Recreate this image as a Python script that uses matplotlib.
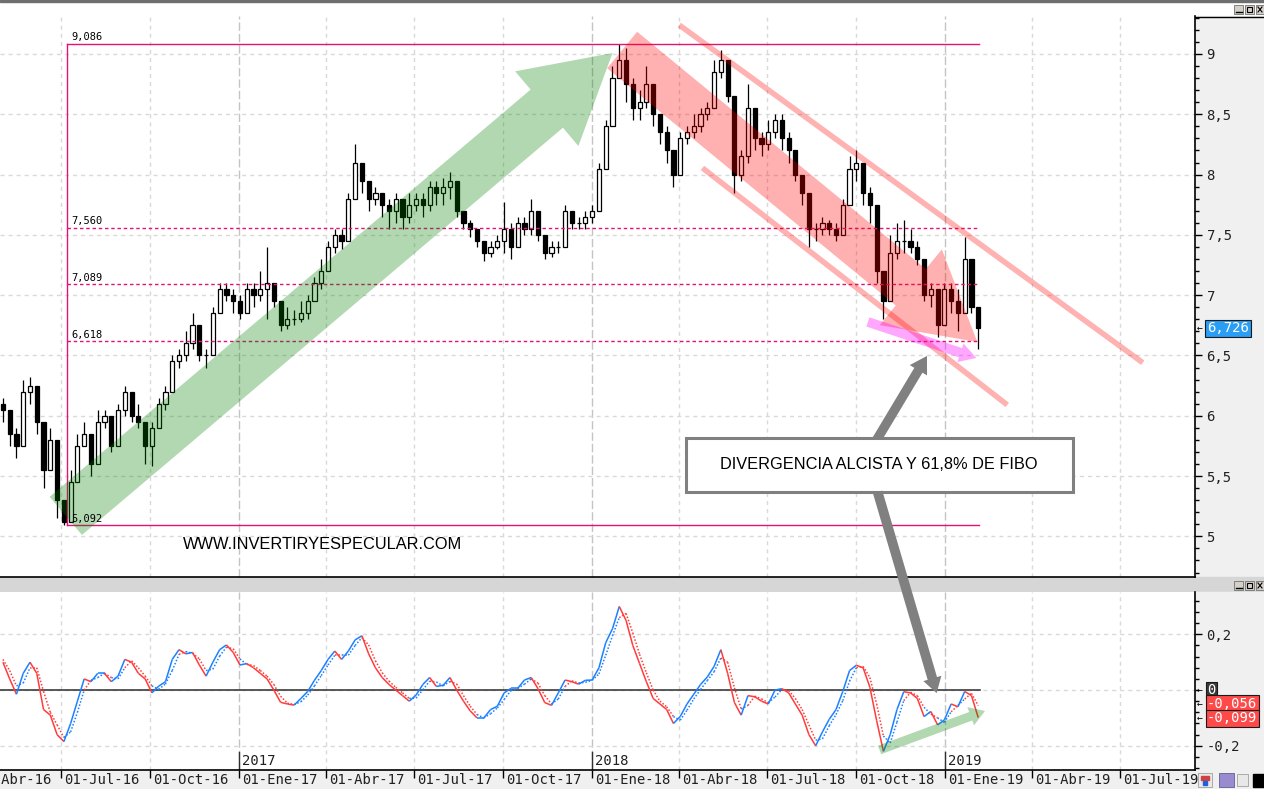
import numpy as np
import pandas as pd
import matplotlib
matplotlib.use('Agg')
import matplotlib.pyplot as plt
import matplotlib.dates as mdates
import matplotlib.transforms as mtransforms
from matplotlib.patches import Rectangle, ConnectionPatch
from matplotlib.collections import LineCollection
from matplotlib.ticker import MultipleLocator, FixedLocator, FuncFormatter

# ---- weekly candles (one per week from 2016-05-02) ----
week_start = '2016-05-02'
opens = [6.1, 6.05, 5.85, 5.75, 6.2, 6.25, 5.95, 5.55, 5.8, 5.3,
         5.12, 5.45, 5.75, 5.85, 5.6, 5.95, 6.0, 5.75, 6.05, 6.2,
         6.0, 5.95, 5.75, 5.9, 6.1, 6.2, 6.45, 6.5, 6.6, 6.75,
         6.5, 6.5, 6.85, 7.05, 7.0, 6.95, 6.85, 7.05, 7.0, 7.05,
         7.1, 6.95, 6.75, 6.8, 6.8, 6.85, 6.95, 7.1, 7.2, 7.4,
         7.5, 7.45, 7.8, 8.1, 7.95, 7.8, 7.85, 7.75, 7.7, 7.8,
         7.65, 7.75, 7.8, 7.75, 7.9, 7.85, 7.9, 7.95, 7.7, 7.6,
         7.55, 7.45, 7.35, 7.4, 7.45, 7.55, 7.4, 7.6, 7.55, 7.7,
         7.5, 7.35, 7.4, 7.4, 7.7, 7.6, 7.6, 7.65, 7.7, 8.05,
         8.4, 8.8, 8.95, 8.75, 8.55, 8.6, 8.75, 8.5, 8.35, 8.2,
         8.0, 8.3, 8.35, 8.4, 8.5, 8.55, 8.85, 8.95, 8.65, 8.0,
         8.15, 8.55, 8.3, 8.25, 8.35, 8.45, 8.3, 8.2, 8.0, 7.85,
         7.55, 7.55, 7.6, 7.55, 7.5, 7.75, 8.05, 8.1, 7.85, 7.75,
         7.2, 6.95, 7.35, 7.45, 7.45, 7.4, 7.3, 7.0, 7.05, 6.75,
         7.05, 6.95, 6.85, 7.3, 6.9]
highs = [6.15, 6.0, 5.9, 6.3, 6.32, 6.2, 5.7, 5.9, 5.5, 5.3,
         5.55, 5.85, 5.95, 5.85, 6.05, 6.05, 5.95, 6.1, 6.25, 6.15,
         6.1, 5.95, 5.95, 6.15, 6.25, 6.5, 6.55, 6.7, 6.85, 6.75,
         6.55, 6.9, 7.1, 7.1, 7.05, 7.0, 7.1, 7.1, 7.2, 7.4,
         7.1, 6.95, 6.9, 6.88, 6.95, 7.0, 7.15, 7.3, 7.45, 7.55,
         7.55, 7.85, 8.25, 8.1, 7.9, 7.9, 7.85, 7.8, 7.85, 7.75,
         7.85, 7.85, 7.85, 7.95, 7.95, 7.97, 8.02, 7.95, 7.7, 7.62,
         7.55, 7.45, 7.45, 7.5, 7.77, 7.6, 7.65, 7.65, 7.8, 7.65,
         7.5, 7.45, 7.45, 7.75, 7.7, 7.65, 7.7, 7.75, 8.1, 8.45,
         8.9, 9.086, 9.05, 8.8, 8.7, 8.9, 8.75, 8.5, 8.4, 8.2,
         8.35, 8.4, 8.5, 8.55, 8.6, 8.95, 9.03, 8.9, 8.5, 8.2,
         8.75, 8.55, 8.35, 8.45, 8.5, 8.5, 8.35, 8.2, 8.0, 7.8,
         7.6, 7.65, 7.62, 7.6, 7.8, 8.15, 8.2, 8.1, 7.9, 7.75,
         7.15, 7.5, 7.6, 7.62, 7.55, 7.45, 7.3, 7.1, 7.0, 7.1,
         7.1, 7.05, 7.48, 7.2, 6.9]
lows = [5.95, 5.75, 5.65, 5.9, 6.1, 5.85, 5.4, 5.55, 5.15, 5.092,
        5.2, 5.45, 5.75, 5.5, 5.6, 5.9, 5.7, 5.9, 6.0, 5.95,
        5.9, 5.6, 5.58, 5.9, 6.05, 6.2, 6.4, 6.45, 6.55, 6.45,
        6.4, 6.5, 6.85, 6.95, 6.85, 6.8, 6.85, 6.9, 6.95, 6.8,
        6.9, 6.7, 6.72, 6.75, 6.78, 6.8, 6.95, 7.05, 7.2, 7.35,
        7.38, 7.5, 7.8, 7.85, 7.7, 7.75, 7.65, 7.55, 7.6, 7.55,
        7.6, 7.7, 7.65, 7.7, 7.75, 7.75, 7.8, 7.65, 7.55, 7.48,
        7.4, 7.28, 7.32, 7.38, 7.35, 7.3, 7.45, 7.5, 7.5, 7.45,
        7.3, 7.32, 7.35, 7.4, 7.55, 7.55, 7.55, 7.6, 7.7, 8.05,
        8.4, 8.8, 8.6, 8.45, 8.45, 8.55, 8.4, 8.25, 8.1, 7.9,
        8.0, 8.25, 8.3, 8.35, 8.45, 8.55, 8.8, 8.6, 7.85, 7.95,
        8.1, 8.2, 8.15, 8.2, 8.3, 8.2, 8.1, 7.95, 7.75, 7.4,
        7.45, 7.5, 7.5, 7.45, 7.5, 7.75, 7.95, 7.75, 7.6, 7.1,
        6.8, 6.95, 7.3, 7.35, 7.35, 7.25, 6.95, 6.9, 6.65, 6.75,
        6.85, 6.7, 6.85, 6.85, 6.55]
closes = [6.05, 5.85, 5.75, 6.2, 6.25, 5.95, 5.55, 5.8, 5.3, 5.12,
          5.45, 5.75, 5.85, 5.6, 5.95, 6.0, 5.75, 6.05, 6.2, 6.0,
          5.95, 5.75, 5.9, 6.1, 6.2, 6.45, 6.5, 6.6, 6.75, 6.5,
          6.5, 6.85, 7.05, 7.0, 6.95, 6.85, 7.05, 7.0, 7.05, 7.1,
          6.95, 6.75, 6.8, 6.8, 6.85, 6.95, 7.1, 7.2, 7.4, 7.5,
          7.45, 7.8, 8.1, 7.95, 7.8, 7.85, 7.75, 7.7, 7.8, 7.65,
          7.75, 7.8, 7.75, 7.9, 7.85, 7.9, 7.95, 7.7, 7.6, 7.55,
          7.45, 7.35, 7.4, 7.45, 7.55, 7.4, 7.6, 7.55, 7.7, 7.5,
          7.35, 7.4, 7.4, 7.7, 7.6, 7.6, 7.65, 7.7, 8.05, 8.4,
          8.8, 8.95, 8.75, 8.55, 8.6, 8.75, 8.5, 8.35, 8.2, 8.0,
          8.3, 8.35, 8.4, 8.5, 8.55, 8.85, 8.95, 8.65, 8.0, 8.15,
          8.55, 8.3, 8.25, 8.35, 8.45, 8.3, 8.2, 8.0, 7.85, 7.55,
          7.55, 7.6, 7.55, 7.5, 7.75, 8.05, 8.1, 7.85, 7.75, 7.2,
          6.95, 7.35, 7.45, 7.45, 7.4, 7.3, 7.0, 7.05, 6.75, 7.05,
          6.95, 6.85, 7.3, 6.9, 6.726]

# ---- oscillator (main line and dotted signal line), same weeks ----
osc_main = [0.10, 0.04, -0.015, 0.06, 0.10, 0.06, -0.07, -0.09, -0.16, -0.185,
            -0.12, -0.04, 0.04, 0.03, 0.06, 0.06, 0.03, 0.05, 0.11, 0.10,
            0.06, 0.04, -0.01, 0.014, 0.03, 0.11, 0.145, 0.13, 0.135, 0.09,
            0.05, 0.10, 0.145, 0.162, 0.135, 0.09, 0.095, 0.08, 0.06, 0.04,
            0.0, -0.044, -0.05, -0.054, -0.03, -0.005, 0.035, 0.07, 0.11, 0.14,
            0.11, 0.14, 0.18, 0.195, 0.13, 0.08, 0.045, 0.02, 0.0, -0.02,
            -0.04, -0.018, 0.02, 0.045, 0.013, 0.017, 0.045, 0.0, -0.04, -0.075,
            -0.10, -0.10, -0.07, -0.058, -0.01, 0.006, 0.006, 0.036, 0.045, 0.005,
            -0.045, -0.055, -0.01, 0.036, 0.03, 0.021, 0.035, 0.036, 0.08, 0.17,
            0.22, 0.30, 0.25, 0.16, 0.095, 0.03, -0.03, -0.05, -0.07, -0.12,
            -0.095, -0.05, -0.015, 0.02, 0.047, 0.085, 0.145, 0.06, -0.045, -0.09,
            -0.02, -0.024, -0.04, -0.05, 0.0, 0.005, -0.01, -0.05, -0.09, -0.16,
            -0.20, -0.15, -0.105, -0.07, -0.005, 0.07, 0.089, 0.08, 0.01, -0.11,
            -0.22, -0.16, -0.07, -0.006, -0.01, -0.03, -0.095, -0.077, -0.125, -0.107,
            -0.05, -0.06, -0.005, -0.02, -0.099]
osc_signal = [0.11, 0.07, 0.015, 0.025, 0.08, 0.08, -0.005, -0.08, -0.125, -0.17,
              -0.15, -0.08, 0.0, 0.035, 0.045, 0.06, 0.045, 0.04, 0.08, 0.105,
              0.08, 0.05, 0.015, 0.002, 0.022, 0.07, 0.128, 0.138, 0.132, 0.112,
              0.07, 0.075, 0.122, 0.154, 0.148, 0.112, 0.092, 0.088, 0.07, 0.05,
              0.02, -0.022, -0.047, -0.052, -0.042, -0.018, 0.015, 0.052, 0.09, 0.125,
              0.125, 0.125, 0.16, 0.188, 0.162, 0.105, 0.062, 0.032, 0.01, -0.01,
              -0.03, -0.029, 0.001, 0.032, 0.029, 0.015, 0.031, 0.022, -0.02, -0.058,
              -0.088, -0.10, -0.085, -0.064, -0.034, -0.002, 0.006, 0.021, 0.04, 0.025,
              -0.02, -0.05, -0.032, 0.013, 0.033, 0.025, 0.028, 0.035, 0.058, 0.125,
              0.195, 0.26, 0.275, 0.205, 0.128, 0.062, 0.0, -0.04, -0.06, -0.095,
              -0.108, -0.072, -0.032, 0.002, 0.034, 0.066, 0.115, 0.10, 0.008, -0.068,
              -0.055, -0.022, -0.032, -0.045, -0.025, 0.002, -0.002, -0.03, -0.07, -0.125,
              -0.18, -0.175, -0.128, -0.088, -0.038, 0.032, 0.08, 0.085, 0.045, -0.05,
              -0.165, -0.19, -0.115, -0.038, -0.008, -0.02, -0.062, -0.086, -0.10, -0.116,
              -0.078, -0.055, -0.032, -0.012, -0.056]

# ---- fibonacci retracement ----
fib_start = '2016-07-07'
fib_end = '2019-02-05'
fib_levels = [9.086, 7.560, 7.089, 6.618, 5.092]
fib_labels = ['9,086', '7,560', '7,089', '6,618', '5,092']

# ---- axis ticks ----
tick_dates = ['2016-04-01', '2016-07-01', '2016-10-01', '2017-01-01', '2017-04-01',
              '2017-07-01', '2017-10-01', '2018-01-01', '2018-04-01', '2018-07-01',
              '2018-10-01', '2019-01-01', '2019-04-01', '2019-07-01']
tick_labels = ['01-Abr-16', '01-Jul-16', '01-Oct-16', '01-Ene-17', '01-Abr-17',
               '01-Jul-17', '01-Oct-17', '01-Ene-18', '01-Abr-18', '01-Jul-18',
               '01-Oct-18', '01-Ene-19', '01-Abr-19', '01-Jul-19']
year_dates = ['2017-01-01', '2018-01-01', '2019-01-01']
year_labels = ['2017', '2018', '2019']

last_price = 6.726
last_signal = -0.056
last_main = -0.099

MONO = 'DejaVu Sans Mono'
SANS = 'Liberation Sans'
FIB = '#e3127a'
BLUE = '#1c80ff'
RED = '#ff3c3c'

W, H = 1264, 789
fig = plt.figure(figsize=(W / 100, H / 100), dpi=100)


def frac(x0, y0, x1, y1):
    return [x0 / W, 1 - y1 / H, (x1 - x0) / W, (y1 - y0) / H]


# window chrome behind the panels
bg = fig.add_axes([0, 0, 1, 1], zorder=-10)
bg.set_xlim(0, W)
bg.set_ylim(H, 0)
bg.axis('off')
bg.add_patch(Rectangle((0, 0), W, 2, color='#6e6e6e'))
bg.add_patch(Rectangle((1195, 16), 69, 561, color='#f0f0f0'))
bg.plot([1195, 1264], [16.5, 16.5], color='black', lw=1)
bg.add_patch(Rectangle((0, 577), W, 15, color='#d6d6d6'))
bg.add_patch(Rectangle((1195, 592), 69, 178, color='#f0f0f0'))
bg.add_patch(Rectangle((0, 770), W, 19, color='#f0f0f0'))
for top in (5, 581):
    for bx in (1234, 1245, 1256):
        bg.add_patch(Rectangle((bx, top), 9, 9, facecolor='#d4d0c8', edgecolor='#707070', lw=0.6))
    bg.plot([1236, 1242], [top + 7, top + 7], color='black', lw=1)
    bg.add_patch(Rectangle((1247, top + 2), 5, 5, facecolor='none', edgecolor='black', lw=0.8))
    bg.plot([1258, 1262], [top + 2, top + 7], color='black', lw=0.8)
    bg.plot([1258, 1262], [top + 7, top + 2], color='black', lw=0.8)
bg.add_patch(Rectangle((1198, 773), 14, 14, facecolor='#e8e8e8', edgecolor='#a0a0a0', lw=0.6))
bg.add_patch(Rectangle((1201, 776), 8, 4, color='#d04040'))
bg.add_patch(Rectangle((1203, 781), 4, 4, color='#2060e0'))
bg.add_patch(Rectangle((1219, 773), 15, 14, facecolor='#9a8ad0', edgecolor='#606090', lw=0.6))
bg.add_patch(Rectangle((1237, 774), 11, 12, facecolor='#e8e8e8', edgecolor='#a0a0a0', lw=0.6))
bg.add_patch(Rectangle((1253, 774), 11, 13, color='black'))

ax = fig.add_axes(frac(0, 16, 1195, 577))
ax2 = fig.add_axes(frac(0, 592, 1195, 770))

dates = pd.date_range(week_start, periods=len(closes), freq='7D')
x = mdates.date2num(dates)
xlim = (mdates.datestr2num('2016-04-29'), mdates.datestr2num('2019-09-16'))
for a in (ax, ax2):
    a.set_xlim(*xlim)
    for s in ('left', 'top'):
        a.spines[s].set_visible(False)
    a.spines['right'].set_color('black')
    a.spines['bottom'].set_color('black')
    a.spines['right'].set_linewidth(1.2)
    a.spines['bottom'].set_linewidth(1.2)
ax.set_ylim(4.663, 9.315)
ax2.set_ylim(-0.287, 0.352)

# grid
for d in tick_dates:
    dn = mdates.datestr2num(d)
    if d.endswith('01-01'):
        st = dict(color='#c4c4c4', lw=1, dashes=(6, 2.2))
    else:
        st = dict(color='#d9d9d9', lw=1, dashes=(2.9, 2.9))
    for a in (ax, ax2):
        a.axvline(dn, zorder=0, **st)
for v in np.arange(5, 9.01, 0.5):
    ax.axhline(v, color='#d9d9d9', lw=1, dashes=(2.9, 2.9), zorder=0)
for v in (-0.2, 0, 0.2):
    ax2.axhline(v, color='#d9d9d9', lw=1, dashes=(2.9, 2.9), zorder=0)

# candles
o = np.array(opens)
c = np.array(closes)
hi = np.maximum(np.array(highs), np.maximum(o, c))
lo = np.minimum(np.array(lows), np.minimum(o, c))
up = c >= o
ax.vlines(x, lo, hi, color='black', lw=0.9, zorder=2)
ax.bar(x[up], (c - o)[up], bottom=o[up], width=4.3, facecolor='white',
       edgecolor='black', lw=0.9, zorder=3)
ax.bar(x[~up], (o - c)[~up], bottom=c[~up], width=4.3, facecolor='black',
       edgecolor='black', lw=0.9, zorder=3)

# fibonacci
f0 = mdates.datestr2num(fib_start)
f1 = mdates.datestr2num(fib_end)
up1 = mtransforms.ScaledTranslation(0, 1.5 / 100, fig.dpi_scale_trans)
for lev, lab in zip(fib_levels, fib_labels):
    if lev in (max(fib_levels), min(fib_levels)):
        ax.plot([f0, f1], [lev, lev], color=FIB, lw=1, zorder=3)
    else:
        ax.plot([f0, f1], [lev, lev], color=FIB, lw=1, dashes=(2.5, 2), zorder=3)
    ax.text(f0 + 5, lev, lab, transform=ax.transData + up1, fontfamily=MONO,
            fontsize=7.5, va='bottom', ha='left', zorder=6)
ax.plot([f0, f0], [min(fib_levels), max(fib_levels)], color=FIB, lw=1, zorder=3)


def dn(d):
    return mdates.datestr2num(d)


def simple(hl, hw, tw):
    return f'simple,head_length={hl},head_width={hw},tail_width={tw}'


# big green arrow
ax.annotate('', xy=(dn('2018-01-22'), 9.008), xytext=(dn('2016-07-06'), 5.17),
            arrowprops=dict(arrowstyle=simple(62, 70.5, 36), mutation_scale=1,
                            color='#008000', alpha=0.3, lw=0, shrinkA=0, shrinkB=0),
            zorder=4)
# big red arrow
ax.annotate('', xy=(dn('2019-02-03'), 6.612), xytext=(dn('2018-02-01'), 9.033),
            arrowprops=dict(arrowstyle=simple(62, 70.5, 34), mutation_scale=1,
                            color='#ff0000', alpha=0.31, lw=0, shrinkA=0, shrinkB=0),
            zorder=4)
# red channel lines
ax.plot([dn('2018-04-01'), dn('2019-07-24')], [9.24, 6.44], color='#ff0000',
        alpha=0.3, lw=4, solid_capstyle='butt', zorder=4)
ax.plot([dn('2018-04-25'), dn('2019-03-06')], [8.055, 6.09], color='#ff0000',
        alpha=0.3, lw=4, solid_capstyle='butt', zorder=4)
# pink arrow
ax.annotate('', xy=(dn('2019-02-02'), 6.479), xytext=(dn('2018-10-13'), 6.778),
            arrowprops=dict(arrowstyle=simple(12, 14, 7), mutation_scale=1,
                            color='#ff00ff', alpha=0.35, lw=0, shrinkA=0, shrinkB=0),
            zorder=4)
# gray arrow up from the note
ax.annotate('', xy=(dn('2018-12-13'), 6.496), xytext=(dn('2018-10-22'), 5.80),
            arrowprops=dict(arrowstyle=simple(12, 14.5, 6.8), mutation_scale=1,
                            color='#808080', lw=0, shrinkA=0, shrinkB=0),
            zorder=5)

# note box
bx0, bx1 = dn('2018-04-08'), dn('2019-05-13')
ax.add_patch(Rectangle((bx0, 5.368), bx1 - bx0, 5.816 - 5.368, facecolor='white',
                       edgecolor='#808080', lw=2.2, zorder=6))
ax.text(dn('2018-10-24'), 5.592, 'DIVERGENCIA ALCISTA Y 61,8% DE FIBO',
        fontfamily=SANS, fontsize=11.8, ha='center', va='center', zorder=7)
ax.text(dn('2016-11-04'), 4.929, 'WWW.INVERTIRYESPECULAR.COM', fontfamily=SANS,
        fontsize=11.8, ha='left', va='center', zorder=7)

# gray arrow down into the oscillator
con = ConnectionPatch(xyA=(dn('2018-10-23'), 5.368), coordsA=ax.transData,
                      xyB=(dn('2018-12-23'), -0.011), coordsB=ax2.transData,
                      arrowstyle=simple(11, 13.5, 7), mutation_scale=1,
                      color='#808080', lw=0, shrinkA=0, shrinkB=0, zorder=5)
fig.add_artist(con)

# price axis on the right
comma = FuncFormatter(lambda v, p: ('%.2f' % v).rstrip('0').rstrip('.').replace('.', ','))
for a in (ax, ax2):
    a.yaxis.tick_right()
    a.tick_params(axis='y', which='major', length=5.3, width=1, color='black',
                  pad=3, labelsize=10, labelfontfamily=MONO, labelcolor='#202020')
    a.tick_params(axis='y', which='minor', length=2.6, width=1, color='black')
    a.yaxis.set_major_formatter(comma)
ax.yaxis.set_major_locator(MultipleLocator(0.5))
ax.yaxis.set_minor_locator(MultipleLocator(0.1))
ax.tick_params(axis='x', bottom=False, labelbottom=False)

rt = mtransforms.blended_transform_factory(ax.transAxes, ax.transData)
ax.text(1 + 12 / 1195, last_price, '6,726', transform=rt, color='white',
        fontfamily=MONO, fontsize=10, va='center', ha='left', clip_on=False,
        bbox=dict(boxstyle='square,pad=0.12', facecolor='#2a9df4', edgecolor='#1a1a1a', lw=0.8))
ax.text(1 + 2 / 1195, last_price, '\u2190', transform=rt, fontfamily=MONO,
        fontsize=7, va='center', ha='left', clip_on=False)

# oscillator
m = np.array(osc_main)
s = np.array(osc_signal)
cols = np.where(m[1:] >= s[1:], BLUE, RED)
pm = np.column_stack([x, m])
ps = np.column_stack([x, s])
ax2.add_collection(LineCollection(np.stack([pm[:-1], pm[1:]], axis=1), colors=cols,
                                  lw=1.1, zorder=3))
ax2.add_collection(LineCollection(np.stack([ps[:-1], ps[1:]], axis=1), colors=cols,
                                  lw=1.1, linestyles=[(0, (1, 1.2))], zorder=3))
ax2.plot([xlim[0], x[-1] + 2], [0, 0], color='#3c3c3c', lw=1.2, zorder=2)
ax2.annotate('', xy=(dn('2019-02-11'), -0.075), xytext=(dn('2018-10-25'), -0.215),
             arrowprops=dict(arrowstyle=simple(11, 14, 6.5), mutation_scale=1,
                             color='#008000', alpha=0.3, lw=0, shrinkA=0, shrinkB=0),
             zorder=4)

ax2.yaxis.set_major_locator(FixedLocator([-0.2, 0.2]))
ax2.yaxis.set_minor_locator(MultipleLocator(0.04))
rt2 = mtransforms.blended_transform_factory(ax2.transAxes, ax2.transData)
boxes = [(0.0, '0', '#3a3a3a'), (-0.049, '-0,056', '#ff4a4a'), (-0.102, '-0,099', '#ff4a4a')]
for yv, lab, fc in boxes:
    ax2.text(1 + 12 / 1195, yv, lab, transform=rt2, color='white', fontfamily=MONO,
             fontsize=10, va='center', ha='left', clip_on=False,
             bbox=dict(boxstyle='square,pad=0.1', facecolor=fc, edgecolor='#1a1a1a', lw=0.8))
    ax2.text(1 + 2 / 1195, yv, '\u2190', transform=rt2, fontfamily=MONO,
             fontsize=7, va='center', ha='left', clip_on=False)

# date axis
in_range = [mdates.datestr2num(d) for d in tick_dates
            if xlim[0] <= mdates.datestr2num(d) <= xlim[1]]
ax2.set_xticks(in_range)
ax2.set_xticklabels([''] * len(in_range))
ax2.tick_params(axis='x', direction='out', length=5.5, width=1, color='black')
off = mtransforms.ScaledTranslation(3 / 100, -3 / 100, fig.dpi_scale_trans)
bt = mtransforms.blended_transform_factory(ax2.transData, ax2.transAxes)
for d, lab in zip(tick_dates, tick_labels):
    ax2.text(mdates.datestr2num(d), 0, lab, transform=bt + off, va='top', ha='left',
             fontfamily=MONO, fontsize=10, color='#202020', clip_on=False)
yoff = mtransforms.ScaledTranslation(3 / 100, 2 / 100, fig.dpi_scale_trans)
for d, lab in zip(year_dates, year_labels):
    ax2.axvline(mdates.datestr2num(d), ymin=0, ymax=18 / 178, color='#303030', lw=1)
    ax2.text(mdates.datestr2num(d), 0, lab, transform=bt + yoff, va='bottom', ha='left',
             fontfamily=MONO, fontsize=10, color='#202020', clip_on=False)

fig.savefig('out.png', dpi=100)
